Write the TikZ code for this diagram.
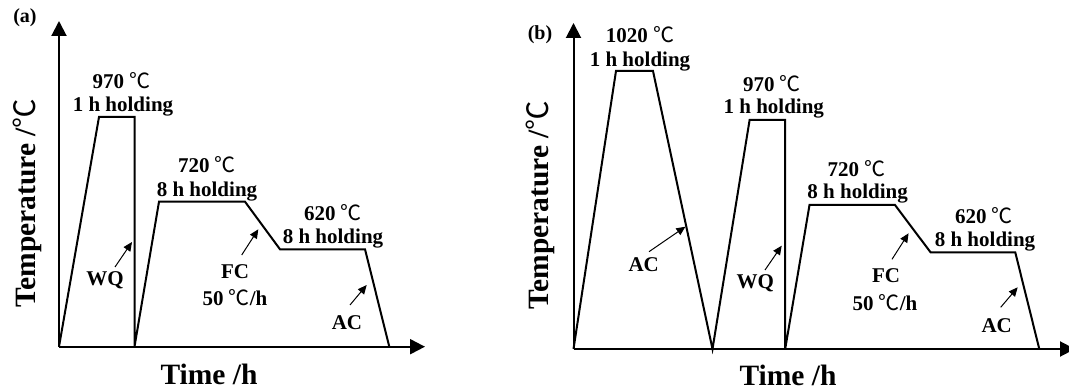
\documentclass[tikz,border=0pt]{standalone}
\usepackage{fontspec}
\setmainfont{Liberation Serif}
\newfontfamily\cjk{Noto Sans CJK SC}
\usetikzlibrary{arrows.meta}
\newcommand{\degC}{{\cjk\mdseries ℃}}
\begin{document}
\begin{tikzpicture}[x=1pt,y=-1pt,
  curve/.style={line width=2pt, line join=miter},
  axis/.style={line width=2pt, -{Triangle[length=15pt,width=15pt]}},
  pointer/.style={line width=1pt, -{Triangle[length=9pt,width=8pt]}},
  lbl/.style={font=\fontsize{21}{23}\selectfont\bfseries, inner sep=0pt},
  big/.style={font=\fontsize{29.5}{32}\selectfont\bfseries, inner sep=0pt},
  tag/.style={font=\fontsize{20}{22}\selectfont\bfseries, inner sep=0pt}]
\useasboundingbox (0,0) rectangle (1069,390);

% ---------------- panel (a) ----------------
\coordinate (ao) at (59,346.7);
\coordinate (ay) at (59,21);
\coordinate (ax) at (425,346.7);
\draw[axis] (ao) -- (ay);
\draw[axis] (ao) -- (ax);
\draw[curve] (ao) -- (99,117) -- (134.5,117) -- (134.5,346.7) -- (159,201.7)
  -- (245,201.7) -- (280,249.3) -- (365,249.3) -- (389.3,346.7);

\node[tag] (atag) at (25,18) {(a)};
\node[lbl] (a1t) at (121.5,80.5) {970 \degC};
\node[lbl] (a1h) at (123,106.5) {1 h holding};
\node[lbl] (a2t) at (207,165) {720 \degC};
\node[lbl] (a2h) at (207,191.5) {8 h holding};
\node[lbl] (a3t) at (333,213) {620 \degC};
\node[lbl] (a3h) at (333,238.5) {8 h holding};
\node[lbl] (awq) at (105,280) {WQ};
\node[lbl] (afc) at (235,272) {FC};
\node[lbl] (afr) at (235,298) {50 \degC/h};
\node[lbl] (aac) at (347,323) {AC};
\node[big, rotate=90] (aylab) at (27,203) {Temperature /\degC};
\node[big] (axlab) at (209,374) {Time /h};

\coordinate (awq0) at (115,267);   \coordinate (awq1) at (132,242);
\coordinate (afc0) at (241.7,255); \coordinate (afc1) at (258.3,229.3);
\coordinate (aac0) at (350,305);   \coordinate (aac1) at (366.7,285);
\draw[pointer] (awq0) -- (awq1);
\draw[pointer] (afc0) -- (afc1);
\draw[pointer] (aac0) -- (aac1);

% ---------------- panel (b) ----------------
\coordinate (bo) at (573.5,349);
\coordinate (by) at (573.5,23);
\coordinate (bx) at (1075,349);
\draw[axis] (bo) -- (by);
\draw[axis] (bo) -- (bx);
\draw[curve] (bo) -- (616,71) -- (653,71) -- (712.5,349) -- (749.6,120)
  -- (785.2,120) -- (785.2,349) -- (809.5,205) -- (895,205) -- (930.7,252.5)
  -- (1015.3,252.5) -- (1039.3,349);

\node[tag] (btag) at (540,35) {(b)};
\node[lbl] (b0t) at (640,35) {1020 \degC};
\node[lbl] (b0h) at (640,61.2) {1 h holding};
\node[lbl] (b1t) at (772,83.3) {970 \degC};
\node[lbl] (b1h) at (773.8,108.8) {1 h holding};
\node[lbl] (b2t) at (856.5,168.3) {720 \degC};
\node[lbl] (b2h) at (857.6,193.8) {8 h holding};
\node[lbl] (b3t) at (984,216) {620 \degC};
\node[lbl] (b3h) at (985,241.8) {8 h holding};
\node[lbl] (bac1) at (643.7,265) {AC};
\node[lbl] (bwq) at (755.3,283.3) {WQ};
\node[lbl] (bfc) at (886,276) {FC};
\node[lbl] (bfr) at (885,302.7) {50 \degC/h};
\node[lbl] (bac2) at (996.7,326) {AC};
\node[big, rotate=90] (bylab) at (540,205) {Temperature /\degC};
\node[big] (bxlab) at (788,375) {Time /h};

\coordinate (bac10) at (649,251.7);   \coordinate (bac11) at (685.4,226.7);
\coordinate (bwq0) at (765,270);      \coordinate (bwq1) at (781.7,245.7);
\coordinate (bfc0) at (892,259.3);    \coordinate (bfc1) at (908.6,233.3);
\coordinate (bac20) at (1000.7,307.3); \coordinate (bac21) at (1017.7,287.3);
\draw[pointer] (bac10) -- (bac11);
\draw[pointer] (bwq0) -- (bwq1);
\draw[pointer] (bfc0) -- (bfc1);
\draw[pointer] (bac20) -- (bac21);
\end{tikzpicture}
\end{document}
